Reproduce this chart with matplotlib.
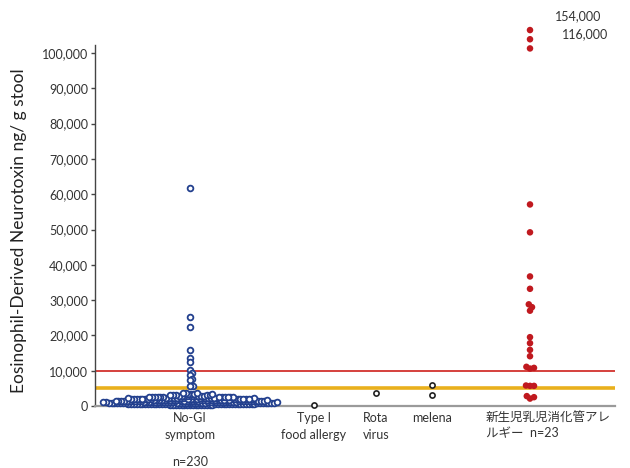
import numpy as np
import matplotlib
matplotlib.use("Agg")
import matplotlib.pyplot as plt
from matplotlib.transforms import blended_transform_factory

plt.rcParams['font.family'] = ['Lato', 'Noto Sans CJK JP', 'DejaVu Sans']

# ---------------- data ----------------
categories = ["No-GI\nsymptom", "Type I\nfood allergy", "Rota\nvirus", "melena",
              "新生児乳児消化管アレ\nルギー  n=23"]

no_gi_cluster = [
    150, 180, 210, 240, 260, 280, 300, 320, 340, 350,
    360, 375, 390, 400, 410, 420, 430, 440, 450, 460,
    465, 470, 475, 480, 485, 490, 495, 499,
    505, 515, 525, 540, 550, 560, 575, 585, 595, 610,
    620, 630, 645, 655, 665, 680, 690, 700, 715, 725,
    735, 750, 760, 770, 785, 795, 805, 820, 830, 840,
    855, 865, 875, 890, 900, 910, 925, 935, 945, 960,
    970, 980, 990, 995, 998,
    1000, 1010, 1020, 1040, 1050, 1060, 1080, 1090, 1100, 1110,
    1120, 1140, 1150, 1160, 1180, 1190, 1200, 1210, 1220, 1240,
    1250, 1260, 1280, 1290, 1300, 1310, 1320, 1340, 1350, 1360,
    1380, 1390, 1400, 1410, 1420, 1440, 1450, 1460, 1470, 1480,
    1490, 1030, 1170, 1330, 1470,
    1500, 1510, 1530, 1540, 1560, 1580, 1600, 1610, 1630, 1650,
    1660, 1680, 1700, 1710, 1730, 1750, 1760, 1780, 1800, 1810,
    1830, 1850, 1860, 1880, 1900, 1910, 1930, 1950, 1970, 1990,
    1550, 1720, 1840, 1920, 1640, 1525, 1670, 1790, 1870, 1960,
    2000, 2030, 2060, 2090, 2120, 2150, 2180, 2210, 2240, 2270,
    2300, 2330, 2360, 2390, 2420, 2450, 2480, 2050, 2160, 2280,
    2400, 2110, 2020, 2140, 2200, 2260, 2340, 2380, 2440, 2490,
    2510, 2540, 2570, 2600, 2630, 2660, 2700, 2730, 2760, 2800,
    2830, 2860, 2880, 2900, 2930, 2960, 2980, 2550,
    3020, 3080, 3150, 3200, 3280, 3350, 3420, 3500, 3580, 3650, 3750,
]
no_gi_high = [61800, 25300, 22500, 15900, 13700, 12500, 10200, 9300, 8900,
              7600, 7400, 5700, 5700]
no_gi = no_gi_cluster + no_gi_high

type1_food_allergy = [150]
rota_virus = [3600]
melena = [5900, 3100]

# neonatal/infant GI allergy (top three are off-scale, drawn at the top)
neonatal = [106500, 103900, 101300, 57100, 49200, 36700, 33200, 28800, 28000, 27000,
            19500, 17800, 15900, 14100, 11100, 10800, 10600, 5800, 5700, 5700,
            2800, 2500, 2100]
offscale_labels = ["154,000", "116,000"]

cutoff_red = 10000
cutoff_yellow = 5000

n_labels = ["n=230"]

# ---------------- layout ----------------
W, H = 630, 468
fig = plt.figure(figsize=(W / 100, H / 100), dpi=100)
ax = fig.add_axes([95 / W, (H - 406) / H, 520 / W, 361 / H])
ax.set_xlim(0.95, 6.15)
ax.set_ylim(0, 102270)

cat_x = [1.90, 3.14, 3.76, 4.32, 5.30]


def swarm(values, xc, min_px, step_px=0.4):
    """beeswarm: place points horizontally so markers do not overlap too much"""
    vals = np.asarray(values, dtype=float)
    order = np.argsort(vals)
    py = ax.transData.transform(np.column_stack([np.full(len(vals), xc), vals]))[:, 1]
    xc_px = ax.transData.transform([[xc, 0]])[0, 0]
    placed = []
    offs = np.zeros(len(vals))
    for i in order:
        k = 0
        while True:
            cands = [0.0] if k == 0 else [k * step_px, -k * step_px]
            ok_c = None
            for c in cands:
                good = True
                for (ox, oy) in placed:
                    if (ox - c) ** 2 + (oy - py[i]) ** 2 < min_px ** 2:
                        good = False
                        break
                if good:
                    ok_c = c
                    break
            if ok_c is not None:
                offs[i] = ok_c
                placed.append((ok_c, py[i]))
                break
            k += 1
    xs_px = xc_px + offs
    xs = ax.transData.inverted().transform(np.column_stack([xs_px, py]))[:, 0]
    return xs, vals


blue = '#23408e'
red_pt = '#c0191f'

# reference lines
ax.axhline(cutoff_red, color='#d2322d', lw=1.3, zorder=1)
ax.axhline(cutoff_yellow, color='#e9b01c', lw=2.6, zorder=1)

x0, y0 = swarm(no_gi, cat_x[0], 2.5)
ax.scatter(x0, y0, s=17, facecolors='white', edgecolors=blue, linewidths=1.3,
           zorder=3, clip_on=False)

for xc, vals in zip(cat_x[1:4], [type1_food_allergy, rota_virus, melena]):
    xs, ys = swarm(vals, xc, 5)
    ax.scatter(xs, ys, s=14, facecolors='white', edgecolors='#222222',
               linewidths=1.2, zorder=3, clip_on=False)

x4, y4 = swarm(neonatal, cat_x[4], 4.0)
ax.scatter(x4, y4, s=22, color=red_pt, edgecolors='none', zorder=3, clip_on=False)

# axes styling
for s in ['top', 'right']:
    ax.spines[s].set_visible(False)
ax.spines['left'].set_color('#444444')
ax.spines['left'].set_linewidth(1.0)
ax.spines['bottom'].set_color('#9a9a9a')
ax.spines['bottom'].set_linewidth(1.6)
ax.set_yticks(np.arange(0, 100001, 10000))
ax.set_yticklabels([f"{v:,}" for v in range(0, 100001, 10000)])
ax.tick_params(axis='y', direction='out', length=3, width=1, color='#444444',
               labelsize=9, labelcolor='#333333', pad=2)
ax.set_xticks([])

fig.text(19 / W, 1 - 231 / H, "Eosinophil-Derived Neurotoxin ng/ g stool",
         rotation=90, ha='center', va='center', fontsize=12.5, color='#222222')

tr = blended_transform_factory(ax.transData, fig.transFigure)
txtc = '#333333'
for xc, lab in zip(cat_x[:4], categories[:4]):
    ax.text(xc, 1 - 412 / H, lab, transform=tr, ha='center', va='top',
            fontsize=9, color=txtc, linespacing=1.5)
ax.text(cat_x[0], 1 - 462 / H, n_labels[0], transform=tr, ha='center',
        va='center', fontsize=9, color=txtc)
ax.text(4.86, 1 - 411 / H, categories[4], transform=tr, ha='left', va='top',
        fontsize=9, color=txtc, linespacing=1.4)

fig.text(578 / W, 1 - 16 / H, offscale_labels[0], ha='center', va='center',
         fontsize=9, color=txtc)
fig.text(585 / W, 1 - 34 / H, offscale_labels[1], ha='center', va='center',
         fontsize=9, color=txtc)

fig.savefig("out.png", dpi=100)
